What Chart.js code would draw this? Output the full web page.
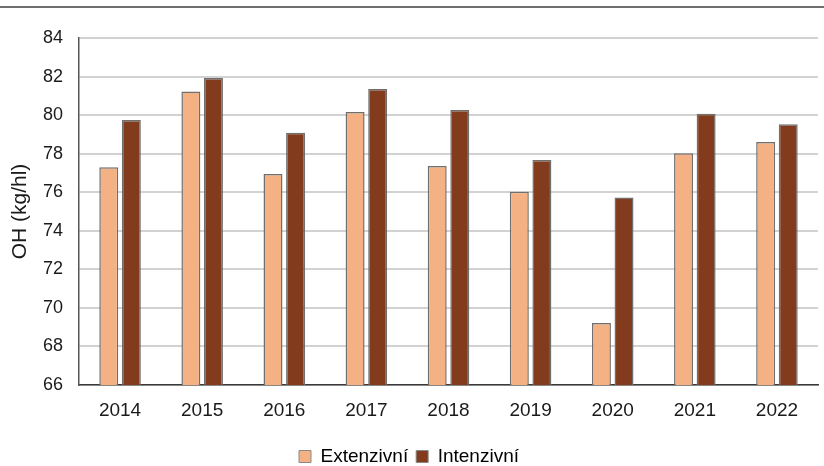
<!DOCTYPE html>
<html>
<head>
<meta charset="utf-8">
<script src="https://cdn.jsdelivr.net/npm/chart.js@4"></script>
<style>
  html, body { margin: 0; padding: 0; background: #ffffff; }
  #wrap { position: relative; width: 824px; height: 466px; }
</style>
</head>
<body>
<div id="wrap"><canvas id="chart"></canvas></div>
<script>
// Years on the category axis
const years = ['2014', '2015', '2016', '2017', '2018', '2019', '2020', '2021', '2022'];
// Hectolitre weight (kg/hl) per system
const extenzivni = [77.30, 81.22, 76.94, 80.16, 77.36, 76.03, 69.22, 78.02, 78.61];
const intenzivni = [79.74, 81.92, 79.08, 81.36, 80.26, 77.67, 75.72, 80.07, 79.52];
// Value axis range
const yMin = 66;
const yMax = 84;
const yStep = 2;

const FONT = "'Liberation Sans', Arial, Helvetica, sans-serif";

// Thin rule across the top of the figure
const topRule = {
  id: 'topRule',
  beforeDraw(chart) {
    const ctx = chart.ctx;
    ctx.save();
    ctx.strokeStyle = '#6e6e6e';
    ctx.lineWidth = 2;
    ctx.beginPath();
    ctx.moveTo(0, 7);
    ctx.lineTo(chart.width, 7);
    ctx.stroke();
    ctx.restore();
  }
};

new Chart(document.getElementById('chart'), {
  type: 'bar',
  data: {
    labels: years,
    datasets: [
      {
        label: 'Extenzivní',
        data: extenzivni,
        backgroundColor: '#f4b183',
        borderColor: '#6f6f6f',
        borderWidth: 1.5,
        borderSkipped: 'bottom',
        categoryPercentage: 0.55,
        barPercentage: 0.84
      },
      {
        label: 'Intenzivní',
        data: intenzivni,
        backgroundColor: '#823b1c',
        borderColor: '#6f6f6f',
        borderWidth: 1.5,
        borderSkipped: 'bottom',
        categoryPercentage: 0.55,
        barPercentage: 0.84
      }
    ]
  },
  options: {
    responsive: true,
    maintainAspectRatio: false,
    animation: false,
    layout: { padding: { top: 38, right: 6, left: 0, bottom: -10 } },
    plugins: {
      legend: {
        position: 'bottom',
        labels: {
          boxWidth: 12,
          boxHeight: 12,
          padding: 8,
          color: '#1a1a1a',
          font: { family: FONT, size: 19 },
          generateLabels(chart) {
            return chart.data.datasets.map((ds, i) => ({
              text: ds.label,
              fillStyle: ds.backgroundColor,
              strokeStyle: '#8a8a8a',
              lineWidth: 1,
              datasetIndex: i,
              hidden: false
            }));
          }
        }
      },
      tooltip: { enabled: false }
    },
    scales: {
      x: {
        grid: { display: false, drawTicks: false },
        border: { display: true, color: '#3a3a3a', width: 1.5 },
        ticks: { color: '#1a1a1a', padding: 14, font: { family: FONT, size: 19 } },
        afterFit(scale) { scale.height = 54; }
      },
      y: {
        min: yMin,
        max: yMax,
        ticks: {
          stepSize: yStep,
          color: '#1a1a1a',
          padding: 16,
          font: { family: FONT, size: 18 }
        },
        grid: { color: '#d2d2d2', lineWidth: 2, drawTicks: false },
        border: { display: true, color: '#555555', width: 1.5 },
        title: {
          display: true,
          text: 'OH (kg/hl)',
          color: '#1a1a1a',
          font: { family: FONT, size: 21 },
          padding: { top: 8, bottom: 4 }
        },
        afterFit(scale) { scale.width = 79; }
      }
    }
  },
  plugins: [topRule]
});
</script>
</body>
</html>
